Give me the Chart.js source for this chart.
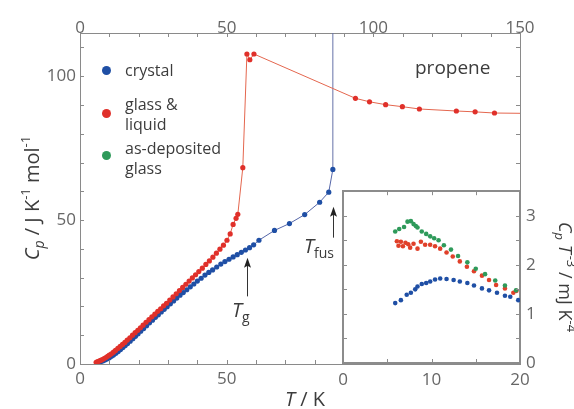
<!DOCTYPE html>
<html><head><meta charset="utf-8">
<script src="https://cdn.jsdelivr.net/npm/chart.js@4/dist/chart.umd.min.js"></script>
<style>
html,body{margin:0;padding:0;background:#fff;}
#wrap{position:relative;width:574px;height:409px;overflow:hidden;font-family:"Open Sans",sans-serif;color:#3c3c3c;}
#main{position:absolute;left:0;top:0;}
#inset{position:absolute;left:330px;top:175px;}
.t{position:absolute;white-space:nowrap;}
.dot{position:absolute;width:9px;height:9px;border-radius:50%;}
sub,sup{line-height:0;}
</style></head>
<body><div id="wrap">
<canvas id="main" width="574" height="409"></canvas>
<canvas id="inset" width="244" height="234"></canvas>

<div class="dot" style="left:102px;top:66px;background:#1f4fa5"></div>
<div class="dot" style="left:102px;top:109px;background:#e0302a"></div>
<div class="dot" style="left:102px;top:151px;background:#2e9a5a"></div>
<div class="t" style="left:125px;top:60px;font-size:16px;line-height:20px">crystal</div>
<div class="t" style="left:125px;top:94px;font-size:16px;line-height:20px">glass &amp;<br>liquid</div>
<div class="t" style="left:125px;top:138px;font-size:16px;line-height:20px">as-deposited<br>glass</div>
<div class="t" style="left:415px;top:55px;font-size:19px;line-height:24px">propene</div>
<div class="t" style="left:232px;top:298px;font-size:20px;line-height:24px"><i>T</i><sub style="font-size:14px;vertical-align:-5px">g</sub></div>
<div class="t" style="left:304px;top:234px;font-size:20px;line-height:24px"><i>T</i><sub style="font-size:14px;vertical-align:-5px">fus</sub></div>
<div class="t" style="left:205px;top:387px;width:200px;text-align:center;font-size:20px;line-height:24px"><i>T</i> / K</div>
<div class="t" style="left:-88px;top:186px;width:240px;text-align:center;font-size:20px;line-height:24px;transform:rotate(-90deg)"><i>C</i><sub style="font-size:14px;vertical-align:-5px"><i>p</i></sub> / J K<sup style="font-size:13px;vertical-align:9px">-1</sup> mol<sup style="font-size:13px;vertical-align:9px">-1</sup></div>
<div class="t" style="left:466px;top:266px;width:200px;text-align:center;font-size:18px;line-height:22px;transform:rotate(90deg)"><i>C</i><sub style="font-size:13px;vertical-align:-4px"><i>p</i></sub> <i>T</i><sup style="font-size:13px;vertical-align:8px;padding-left:2px">-3</sup> / mJ K<sup style="font-size:13px;vertical-align:8px">-4</sup></div>
</div>
<script>
// ---------- main panel data ----------
const glassT = [5.5,6.0,6.5,7.0,7.6,8.2,8.8,9.4,10.0,10.7,11.4,12.1,12.9,13.7,14.5,15.3,16.1,17.0,17.9,18.8,19.7,20.6,21.5,22.5,23.5,24.5,25.5,26.5,27.5,28.5,29.5,30.6,31.7,32.8,33.9,35.0,36.1,37.2,38.3,39.4,40.5,41.7,42.9,44.1,45.3,46.5,47.7,48.9,50.1,51.2,52.2,53.2,53.8,55.5,56.9,57.9,59.3,93.9,98.7,104.2,109.9,115.7,128.3,134.7,141.3,150];
const glassCp = [0.6,0.8,1.0,1.25,1.55,1.9,2.25,2.65,3.05,3.55,4.1,4.7,5.4,6.1,6.8,7.5,8.3,9.1,10.0,10.9,11.7,12.6,13.5,14.5,15.4,16.4,17.3,18.3,19.2,20.2,21.1,22.2,23.3,24.4,25.5,26.6,27.7,28.8,29.9,31.0,32.1,33.3,34.6,35.8,37.1,38.5,39.9,41.3,43.0,45.2,48.5,50.6,52.0,68.2,107.7,105.7,107.7,92.3,91.1,90.1,89.4,88.6,87.9,87.6,87.2,87.1];
const crystalT = [5.8,6.5,7.2,7.9,8.6,9.3,10.0,10.7,11.4,12.2,13.0,13.8,14.6,15.4,16.2,17.1,18.0,18.9,19.8,20.7,21.7,22.7,23.7,24.7,25.7,26.7,27.7,28.7,29.7,30.8,31.9,33.0,34.1,35.2,36.4,37.6,38.8,40.0,41.3,42.6,43.9,45.2,46.6,48.0,49.4,50.8,52.2,53.6,55.0,56.4,57.8,59.2,61.0,66.3,71.4,76.6,81.7,84.8,86.2];
const crystalCp = [0.4,0.6,0.85,1.1,1.45,1.8,2.2,2.65,3.1,3.7,4.3,5.0,5.7,6.4,7.1,7.9,8.8,9.6,10.5,11.4,12.3,13.3,14.3,15.2,16.2,17.1,18.1,19.0,19.9,20.9,21.9,22.9,23.9,24.8,25.8,26.8,27.8,28.8,29.8,30.9,31.8,32.7,33.7,34.7,35.6,36.4,37.2,38.0,38.8,39.6,40.4,41.4,43.0,46.4,48.8,51.9,56.2,59.7,67.6];
const fusionT = [86.2,86.2];
const fusionCp = [67.6,115];
const arrowT = [56.8,86.2];
const arrowFromCp = [23.5,43.9];
const arrowToCp = [36.9,54.6];
const mainXLabels = [0,50,100,150];
const mainBottomLabels = [0,50];
const mainYLabels = [0,50,100];

// ---------- inset data (Cp T^-3 / mJ K^-4) ----------
const depT = [5.9,6.35,6.9,7.29,7.67,7.97,8.23,8.42,8.9,9.4,9.85,10.3,10.8,11.4,12.2,13.0,14.05,15.0,16.05,17.2,18.3,19.55];
const depV = [2.68,2.73,2.77,2.88,2.89,2.83,2.79,2.76,2.68,2.63,2.58,2.54,2.50,2.40,2.31,2.18,2.05,1.92,1.81,1.68,1.58,1.48];
const glsT = [6.09,6.27,6.54,6.77,7.06,7.37,7.59,7.97,8.42,8.8,9.28,9.85,10.4,10.98,11.7,12.4,13.2,14.0,14.8,15.7,16.5,17.3,18.3,19.25,19.6];
const glsV = [2.48,2.39,2.47,2.38,2.45,2.42,2.35,2.43,2.33,2.47,2.41,2.41,2.38,2.33,2.25,2.17,2.07,1.96,1.87,1.78,1.69,1.59,1.52,1.43,1.47];
const cryT = [5.9,6.54,7.2,7.67,8.16,8.42,8.9,9.4,9.85,10.4,10.98,11.7,12.5,13.2,14.05,14.8,15.7,16.5,17.4,18.3,18.9,19.8];
const cryV = [1.22,1.28,1.39,1.43,1.50,1.56,1.61,1.63,1.66,1.70,1.72,1.71,1.69,1.66,1.63,1.58,1.52,1.48,1.43,1.37,1.35,1.28];
const insetXLabels = [0,10,20];
const insetYLabels = [0,1,2,3];

const pts = (xs, ys) => xs.map((x, i) => ({x, y: ys[i]}));
const RED = '#e0302a', BLUE = '#1f4fa5', GREEN = '#2e9a5a';
const FONT = {family: '"Open Sans", sans-serif', size: 17};
const TICKC = '#666';

const inwardTicks = {
  id: 'inwardTicks',
  afterDraw(chart, args, o) {
    const ctx = chart.ctx, a = chart.chartArea;
    ctx.save();
    ctx.strokeStyle = o.color; ctx.lineWidth = 1;
    ctx.beginPath();
    for (const id in chart.scales) {
      const s = chart.scales[id];
      for (const t of s.ticks) {
        const p = Math.round(s.getPixelForValue(t.value)) + 0.5;
        if (s.position === 'bottom') { ctx.moveTo(p, a.bottom); ctx.lineTo(p, a.bottom - o.len); }
        else if (s.position === 'top') { ctx.moveTo(p, a.top); ctx.lineTo(p, a.top + o.len); }
        else if (s.position === 'left') { ctx.moveTo(a.left, p); ctx.lineTo(a.left + o.len, p); }
        else if (s.position === 'right') { ctx.moveTo(a.right, p); ctx.lineTo(a.right - o.len, p); }
      }
    }
    ctx.stroke();
    ctx.restore();
  }
};

const arrows = {
  id: 'arrows',
  afterDatasetsDraw(chart) {
    const ctx = chart.ctx, xs = chart.scales.x, ys = chart.scales.y;
    ctx.save();
    ctx.strokeStyle = '#333'; ctx.fillStyle = '#222'; ctx.lineWidth = 1;
    arrowT.forEach((t, i) => {
      const x = Math.round(xs.getPixelForValue(t)) + 0.5;
      const y0 = ys.getPixelForValue(arrowFromCp[i]);
      const y1 = ys.getPixelForValue(arrowToCp[i]);
      ctx.beginPath(); ctx.moveTo(x, y0); ctx.lineTo(x, y1 + 6); ctx.stroke();
      ctx.beginPath(); ctx.moveTo(x, y1); ctx.lineTo(x - 3.5, y1 + 10); ctx.lineTo(x, y1 + 8); ctx.lineTo(x + 3.5, y1 + 10); ctx.closePath(); ctx.fill();
    });
    ctx.restore();
  }
};

const whiteArea = {
  id: 'whiteArea',
  beforeDraw(chart) {
    const a = chart.chartArea, ctx = chart.ctx;
    ctx.save(); ctx.fillStyle = '#fff';
    ctx.fillRect(a.left, a.top, a.right - a.left, a.bottom - a.top);
    ctx.restore();
  }
};

const axisBase = (pos, min, max, step, labels, size, showLabels, pad) => ({
  type: 'linear', position: pos, min, max,
  grid: {display: false, drawTicks: false},
  border: {display: true, color: '#8a8a8a', width: 1},
  ticks: {
    stepSize: step, includeBounds: false, autoSkip: false, maxRotation: 0,
    display: showLabels, padding: pad, color: TICKC, font: FONT,
    callback: v => labels.includes(v) ? String(v) : ''
  },
  afterFit: s => { if (pos === 'left' || pos === 'right') s.width = size; else s.height = size; }
});

new Chart(document.getElementById('main'), {
  type: 'scatter',
  data: {
    datasets: [
      {data: pts(glassT, glassCp), showLine: true, borderColor: '#e4664e', borderWidth: 1,
       backgroundColor: RED, pointBorderWidth: 0,
       pointRadius: c => (c.raw && c.raw.x >= 150) ? 0 : 2.6},
      {data: pts(crystalT, crystalCp), showLine: true, borderColor: '#5566a8', borderWidth: 1,
       backgroundColor: BLUE, pointBorderWidth: 0, pointRadius: 2.6},
      {data: pts(fusionT, fusionCp), showLine: true, borderColor: '#6672a8', borderWidth: 1, pointRadius: 0}
    ]
  },
  options: {
    responsive: false, animation: false, devicePixelRatio: 1,
    layout: {padding: 0},
    plugins: {legend: {display: false}, tooltip: {enabled: false}, inwardTicks: {len: 4, color: '#8a8a8a'}},
    scales: {
      x: axisBase('bottom', 0, 150, 10, mainBottomLabels, 45, true, 5),
      x2: axisBase('top', 0, 150, 10, mainXLabels, 33, true, -5),
      y: axisBase('left', 0, 115, 10, mainYLabels, 80, true, 4),
      y2: axisBase('right', 0, 115, 10, [], 54, false, 0)
    }
  },
  plugins: [inwardTicks, arrows]
});

const insetAxis = (pos, min, max, step, labels, size, showLabels, pad) => {
  const o = axisBase(pos, min, max, step, labels, size, showLabels, pad);
  o.border = {display: true, color: '#8c8c8c', width: 2};
  return o;
};

new Chart(document.getElementById('inset'), {
  type: 'scatter',
  data: {
    datasets: [
      {data: pts(depT, depV), backgroundColor: GREEN, pointBorderWidth: 0, pointRadius: 2.3},
      {data: pts(glsT, glsV), backgroundColor: '#e0402a', pointBorderWidth: 0, pointRadius: 2.3},
      {data: pts(cryT, cryV), backgroundColor: BLUE, pointBorderWidth: 0, pointRadius: 2.3}
    ]
  },
  options: {
    responsive: false, animation: false, devicePixelRatio: 1,
    layout: {padding: 0},
    plugins: {legend: {display: false}, tooltip: {enabled: false}, inwardTicks: {len: 4, color: '#8c8c8c'}},
    scales: {
      x: insetAxis('bottom', 0, 20, 5, insetXLabels, 46, true, 7),
      x2: insetAxis('top', 0, 20, 5, [], 10, false, 0),
      y: insetAxis('left', 0, 3.5, 0.5, [], 13, false, 0),
      y2: insetAxis('right', 0, 3.5, 0.5, insetYLabels, 54, true, 6)
    }
  },
  plugins: [whiteArea, inwardTicks]
});
</script>
</body></html>
